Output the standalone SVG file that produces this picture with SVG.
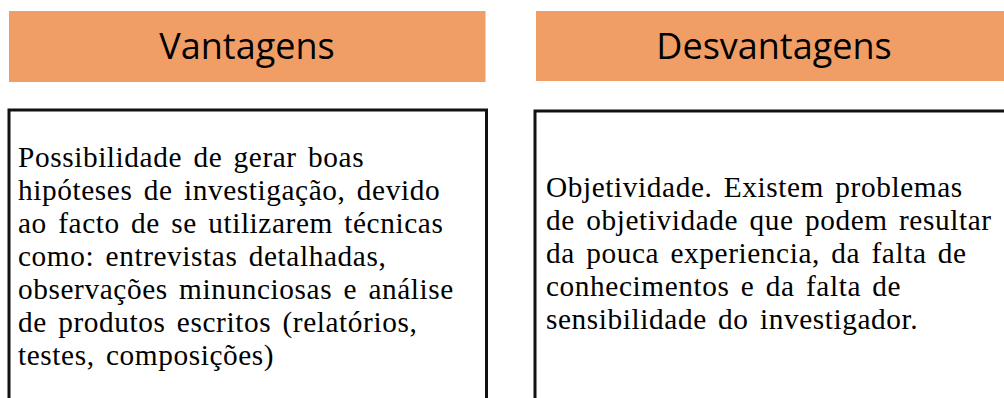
<svg xmlns="http://www.w3.org/2000/svg" width="1004" height="398" viewBox="0 0 1004 398">
<style>
.hdr{fill:#F19E66;}
.hdrt{font-family:"Open Sans","Noto Sans",sans-serif;font-size:36px;fill:#000;text-anchor:middle;}
.box{fill:#fff;stroke:#111;stroke-width:3;}
.body{font-family:"Liberation Serif","Times New Roman",serif;font-size:29.3px;letter-spacing:0.6px;word-spacing:3.4px;fill:#000;}
</style>
<rect width="1004" height="398" fill="#fff"/>
<g id="vantagens-header">
<rect class="hdr" x="9" y="11" width="476.5" height="71"/>
<text class="hdrt" x="247" y="59">Vantagens</text>
</g>
<g id="desvantagens-header">
<rect class="hdr" x="536" y="11" width="476" height="70"/>
<text class="hdrt" x="774" y="59">Desvantagens</text>
</g>
<g id="vantagens-box">
<rect class="box" x="9" y="110" width="477.5" height="300"/>
<text class="body">
<tspan x="18" y="166.5">Possibilidade de gerar boas</tspan>
<tspan x="18" y="199.5">hipóteses de investigação, devido</tspan>
<tspan x="18" y="232.5">ao facto de se utilizarem técnicas</tspan>
<tspan x="18" y="265.5">como: entrevistas detalhadas,</tspan>
<tspan x="18" y="298.5">observações minunciosas e análise</tspan>
<tspan x="18" y="331.5">de produtos escritos (relatórios,</tspan>
<tspan x="18" y="364.5">testes, composições)</tspan>
</text>
</g>
<g id="desvantagens-box">
<rect class="box" x="535" y="111" width="480" height="300"/>
<text class="body">
<tspan x="546" y="197">Objetividade. Existem problemas</tspan>
<tspan x="546" y="230">de objetividade que podem resultar</tspan>
<tspan x="546" y="263">da pouca experiencia, da falta de</tspan>
<tspan x="546" y="296">conhecimentos e da falta de</tspan>
<tspan x="546" y="329">sensibilidade do investigador.</tspan>
</text>
</g>
<g id="connectors"></g>
</svg>
